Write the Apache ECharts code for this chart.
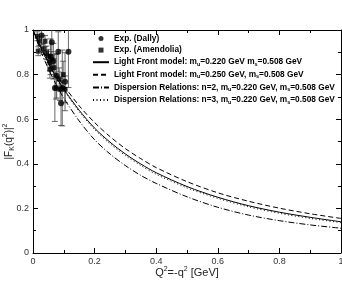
<!DOCTYPE html>
<html><head><meta charset="utf-8">
<script src="https://cdn.jsdelivr.net/npm/echarts@6/dist/echarts.min.js"></script>
<style>html,body{margin:0;padding:0;background:#fff}#c{width:342px;height:282px}</style>
</head><body><div id="c"></div>
<script>
// Model curves sampled at Q2 points
const q2 = [0, 0.025, 0.05, 0.075, 0.1, 0.15, 0.2, 0.25, 0.3, 0.35, 0.4, 0.5, 0.6, 0.7, 0.8, 0.9, 1.0];
const lf220 = [1, 0.921, 0.852, 0.790, 0.735, 0.640, 0.560, 0.497, 0.444, 0.399, 0.360, 0.298, 0.250, 0.212, 0.183, 0.160, 0.140];
const lf250 = [1, 0.927, 0.862, 0.804, 0.751, 0.660, 0.585, 0.522, 0.468, 0.423, 0.383, 0.320, 0.270, 0.232, 0.201, 0.176, 0.155];
const dr2 = [1, 0.907, 0.826, 0.756, 0.694, 0.592, 0.508, 0.444, 0.392, 0.348, 0.312, 0.252, 0.205, 0.170, 0.145, 0.126, 0.111];
const dr3 = [1, 0.919, 0.849, 0.786, 0.730, 0.634, 0.554, 0.490, 0.437, 0.392, 0.353, 0.292, 0.245, 0.207, 0.178, 0.155, 0.136];
// Experimental data: [Q2, |F|^2, error]
const dallyQ2 = [0.028, 0.061, 0.082, 0.115, 0.071, 0.091, 0.095, 0.104, 0.057, 0.066, 0.077];
const dallyF = [0.975, 0.945, 0.902, 0.902, 0.740, 0.672, 0.740, 0.768, 0.880, 0.860, 0.795];
const dallyErr = [0.04, 0.06, 0.09, 0.16, 0.15, 0.10, 0.17, 0.13, 0.08, 0.08, 0.10];
const amenQ2 = [0.014, 0.017, 0.021, 0.034, 0.039, 0.044, 0.050, 0.055, 0.061, 0.068, 0.055, 0.085, 0.098, 0.088, 0.104, 0.075];
const amenF = [0.972, 0.905, 0.951, 0.915, 0.950, 0.898, 0.883, 0.853, 0.869, 0.831, 0.824, 0.780, 0.800, 0.734, 0.734, 0.740];
const amenErr = [0.02, 0.02, 0.02, 0.025, 0.025, 0.03, 0.03, 0.035, 0.035, 0.04, 0.04, 0.05, 0.06, 0.05, 0.06, 0.05];
const ticks = ['0', '0.2', '0.4', '0.6', '0.8', '1'];

const names = [
  'Exp. (Dally)', 'Exp. (Amendolia)',
  '{s|Light Front model: m}{sub|u}{s|=0.220 GeV m}{sub|s}{s|=0.508 GeV}',
  '{s|Light Front model: m}{sub|u}{s|=0.250 GeV, m}{sub|s}{s|=0.508 GeV}',
  '{s|Dispersion Relations: n=2, m}{sub|u}{s|=0.220 GeV, m}{sub|s}{s|=0.508 GeV}',
  '{s|Dispersion Relations: n=3, m}{sub|u}{s|=0.220 GeV, m}{sub|s}{s|=0.508 GeV}'
];
const plain = names.map(n => n.replace(/\{(s|sub)\|([^}]*)\}/g, '$2'));

function pairs(xs, ys) { return xs.map((x, i) => [x, ys[i]]); }
function triples(xs, ys, es) { return xs.map((x, i) => [x, ys[i], es[i]]); }

function errRender(params, api) {
  const x = api.value(0), y = api.value(1), e = api.value(2);
  const t = api.coord([x, y + e]), b = api.coord([x, y - e]);
  const w = 3;
  const st = {stroke: '#444', lineWidth: 0.8};
  return {type: 'group', children: [
    {type: 'line', shape: {x1: t[0], y1: t[1], x2: b[0], y2: b[1]}, style: st},
    {type: 'line', shape: {x1: t[0] - w, y1: t[1], x2: t[0] + w, y2: t[1]}, style: st},
    {type: 'line', shape: {x1: b[0] - w, y1: b[1], x2: b[0] + w, y2: b[1]}, style: st}
  ]};
}

const axisCommon = {
  type: 'value', min: 0, max: 1, interval: 0.2, nameMoveOverlap: false,
  axisLine: {show: true, onZero: false, lineStyle: {color: '#000', width: 1}},
  axisTick: {show: true, inside: true, length: 5, lineStyle: {color: '#000'}},
  minorTick: {show: true, splitNumber: 2, length: 3, lineStyle: {color: '#000'}},
  splitLine: {show: false}
};
const ff = 'Liberation Sans, Arial, sans-serif';
const labelStyle = {color: '#333', fontSize: 9, fontFamily: ff, formatter: v => ticks[Math.round(v / 0.2)]};
const hiddenSym = {color: 'rgba(0,0,0,0)', borderColor: 'rgba(0,0,0,0)', borderWidth: 0};

const chart = echarts.init(document.getElementById('c'), null, {renderer: 'canvas'});
chart.setOption({
  animation: false,
  backgroundColor: '#fff',
  grid: {left: 33, right: 1, top: 30, bottom: 29, containLabel: false, outerBoundsMode: 'none'},
  xAxis: [
    Object.assign({}, axisCommon, {position: 'bottom', axisLabel: Object.assign({margin: 4}, labelStyle),
      name: '{t|Q}{sup|2}{t|=-q}{sup|2}{t| [GeV]}', nameLocation: 'middle', nameGap: 13,
      nameTextStyle: {rich: {t: {fontSize: 11, fontFamily: ff, color: '#222'}, sup: {fontSize: 7, fontFamily: ff, color: '#222', padding: [0, 0, 7, 0]}}}}),
    Object.assign({}, axisCommon, {position: 'top', axisLabel: {show: false}})
  ],
  yAxis: [
    Object.assign({}, axisCommon, {position: 'left', axisLabel: Object.assign({margin: 4}, labelStyle),
      name: '{t||F}{sub|K}{t|(q}{sup|2}{t|)|}{sup|2}', nameLocation: 'middle', nameGap: 17, nameRotate: 90,
      nameTextStyle: {rich: {t: {fontSize: 10, fontFamily: ff, color: '#222'}, sup: {fontSize: 7, fontFamily: ff, color: '#222', padding: [0, 0, 7, 0]}, sub: {fontSize: 7, fontFamily: ff, color: '#222', padding: [6, 0, 0, 0]}}}}),
    Object.assign({}, axisCommon, {position: 'right', axisLabel: {show: false}})
  ],
  legend: {
    orient: 'vertical', left: 92, top: 34, padding: 0, itemWidth: 16, itemHeight: 5, itemGap: 2.6,
    data: [
      {name: plain[0], icon: 'circle'},
      {name: plain[1], icon: 'path://M0,0L10,0L10,10L0,10Z'},
      {name: plain[2], itemStyle: hiddenSym},
      {name: plain[3], itemStyle: hiddenSym},
      {name: plain[4], itemStyle: hiddenSym},
      {name: plain[5], itemStyle: hiddenSym}
    ],
    formatter: n => { const i = plain.indexOf(n); return i >= 2 ? names[i] : '{s|' + n + '}'; },
    textStyle: {fontSize: 8.3, fontWeight: 'bold', fontFamily: ff, color: '#000', lineHeight: 9,
      rich: {s: {fontSize: 8.3, fontWeight: 'bold', fontFamily: ff, color: '#000', lineHeight: 9},
             sub: {fontSize: 5.5, fontWeight: 'bold', fontFamily: ff, color: '#000', lineHeight: 9, padding: [4, 0, 0, 0]}}}
  },
  series: [
    {name: 'errD', type: 'custom', renderItem: errRender, data: triples(dallyQ2, dallyF, dallyErr), clip: true, z: 1, silent: true},
    {name: 'errA', type: 'custom', renderItem: errRender, data: triples(amenQ2, amenF, amenErr), clip: true, z: 1, silent: true},
    {name: plain[0], type: 'scatter', symbol: 'circle', symbolSize: 6, itemStyle: {color: '#000'}, data: pairs(dallyQ2, dallyF), z: 3},
    {name: plain[1], type: 'scatter', symbol: 'rect', symbolSize: 5, itemStyle: {color: '#000'}, data: pairs(amenQ2, amenF), z: 3},
    {name: plain[2], type: 'line', symbol: 'none', showSymbol: false, smooth: 0.3, data: pairs(q2, lf220), lineStyle: {color: '#000', width: 1, type: 'solid'}, itemStyle: {color: '#000'}},
    {name: plain[3], type: 'line', symbol: 'none', showSymbol: false, smooth: 0.3, data: pairs(q2, lf250), lineStyle: {color: '#000', width: 1, type: [5, 3]}, itemStyle: {color: '#000'}},
    {name: plain[4], type: 'line', symbol: 'none', showSymbol: false, smooth: 0.3, data: pairs(q2, dr2), lineStyle: {color: '#000', width: 1, type: [6, 2, 1, 2]}, itemStyle: {color: '#000'}},
    {name: plain[5], type: 'line', symbol: 'none', showSymbol: false, smooth: 0.3, data: pairs(q2, dr3), lineStyle: {color: '#000', width: 1, type: [1, 2.5]}, itemStyle: {color: '#000'}}
  ]
});
</script></body></html>
